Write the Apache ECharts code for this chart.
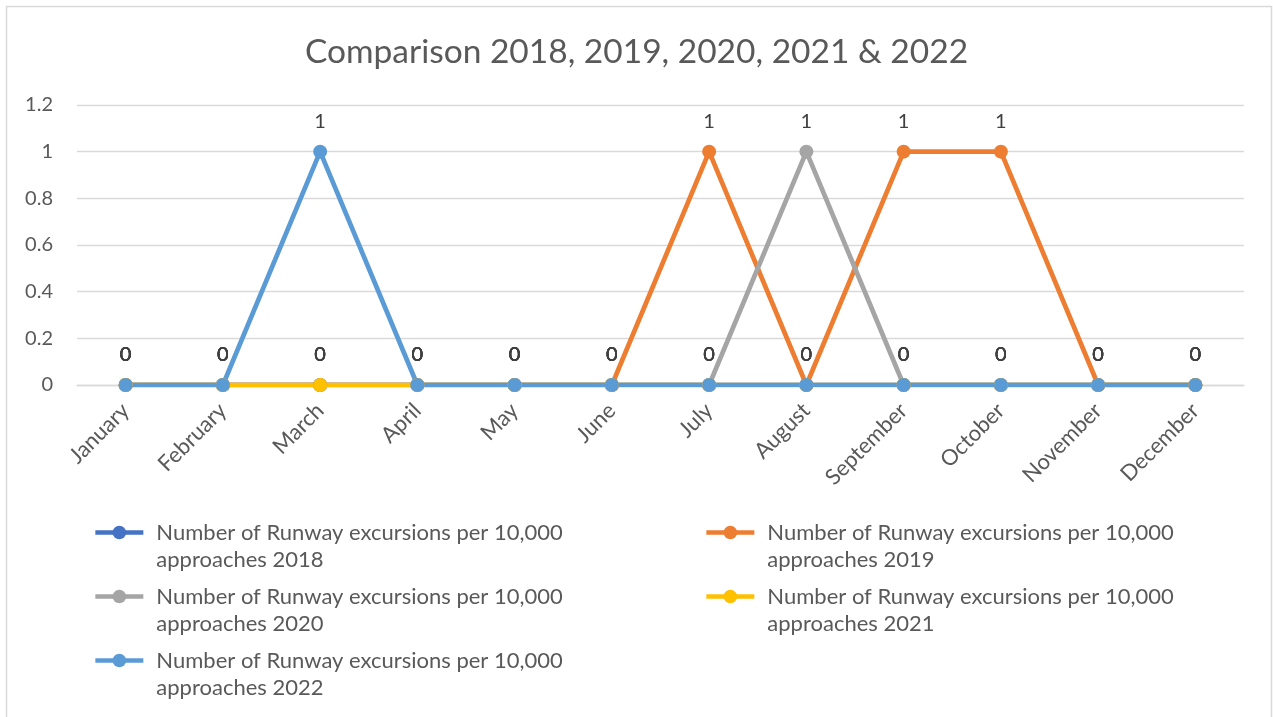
<!DOCTYPE html>
<html>
<head>
<meta charset="utf-8">
<script src="https://cdn.jsdelivr.net/npm/echarts@6/dist/echarts.min.js"></script>
<style>
  html, body { margin: 0; padding: 0; background: #ffffff; }
  #chart { width: 1273px; height: 717px; }
</style>
</head>
<body>
<div id="chart"></div>
<script>
const months = ["January", "February", "March", "April", "May", "June", "July", "August", "September", "October", "November", "December"];
const seriesNames = [
  "Number of Runway excursions per 10,000 approaches 2018",
  "Number of Runway excursions per 10,000 approaches 2019",
  "Number of Runway excursions per 10,000 approaches 2020",
  "Number of Runway excursions per 10,000 approaches 2021",
  "Number of Runway excursions per 10,000 approaches 2022"
];
const values2018 = [0, 0, 0, 0, 0, 0, 0, 0, 0, 0, 0, 0];
const values2019 = [0, 0, 0, 0, 0, 0, 1, 0, 1, 1, 0, 0];
const values2020 = [0, 0, 0, 0, 0, 0, 0, 1, 0, 0, 0, 0];
const values2021 = [0, 0, 0, 0, 0, 0, 0, 0, 0, 0, 0, 0];
const values2022 = [0, 0, 1, 0, 0, 0, 0, 0, 0, 0, 0, 0];
const colors = ["#4472C4", "#ED7D31", "#A5A5A5", "#FFC000", "#5B9BD5"];
const allValues = [values2018, values2019, values2020, values2021, values2022];

const FONT = "Lato";
const chart = echarts.init(document.getElementById('chart'));

const series = allValues.map((vals, i) => ({
  name: seriesNames[i],
  type: 'line',
  data: vals,
  symbol: 'circle',
  symbolSize: 14,
  color: colors[i],
  lineStyle: { width: 4.7, color: colors[i] },
  itemStyle: { color: colors[i] },
  label: {
    show: true,
    position: 'top',
    distance: 13,
    color: '#404040',
    fontFamily: FONT,
    fontSize: 20
  },
  emphasis: { disabled: true },
  animation: false
}));

// legend positions (two columns)
const legendPos = [[93, 492], [704, 492], [93, 556], [704, 556], [93, 620]];
const legends = seriesNames.map((n, i) => ({
  data: [n],
  left: legendPos[i][0],
  top: legendPos[i][1],
  padding: 0,
  orient: 'horizontal',
  itemWidth: 48,
  itemHeight: 17,
  selectedMode: false,
  lineStyle: { width: 4.7 },
  // leading blank line keeps the first text line level with the icon
  formatter: (name) => '\n' + name.replace(' approaches', '\napproaches'),
  textStyle: {
    fontFamily: FONT,
    fontSize: 22,
    color: '#595959',
    lineHeight: 27,
    padding: [0, 0, 0, 8]
  }
}));

chart.setOption({
  backgroundColor: '#ffffff',
  animation: false,
  title: {
    text: 'Comparison 2018, 2019, 2020, 2021 & 2022',
    left: 'center',
    top: 30,
    textStyle: { fontFamily: FONT, fontSize: 33.5, fontWeight: 'normal', color: '#595959' }
  },
  graphic: [{
    type: 'rect',
    shape: { x: 6.5, y: 6.5, width: 1265, height: 720 },
    style: { fill: 'none', stroke: '#D9D9D9', lineWidth: 1.5 },
    silent: true
  }],
  legend: legends,
  grid: { left: 77, right: 29, top: 105, bottom: 332, containLabel: false },
  xAxis: {
    type: 'category',
    data: months,
    boundaryGap: true,
    axisLine: { show: true, lineStyle: { color: '#D9D9D9', width: 1.3 } },
    axisTick: { show: false },
    axisLabel: {
      rotate: 45,
      margin: 22,
      padding: [12, 0, 0, 0],
      interval: 0,
      fontFamily: FONT,
      fontSize: 22,
      color: '#595959'
    }
  },
  yAxis: {
    type: 'value',
    min: 0,
    max: 1.2,
    interval: 0.2,
    axisLine: { show: false },
    axisTick: { show: false },
    splitLine: { lineStyle: { color: '#D9D9D9', width: 1.3 } },
    axisLabel: {
      margin: 24,
      fontFamily: FONT,
      fontSize: 20,
      color: '#595959'
    }
  },
  series: series
});
</script>
</body>
</html>
